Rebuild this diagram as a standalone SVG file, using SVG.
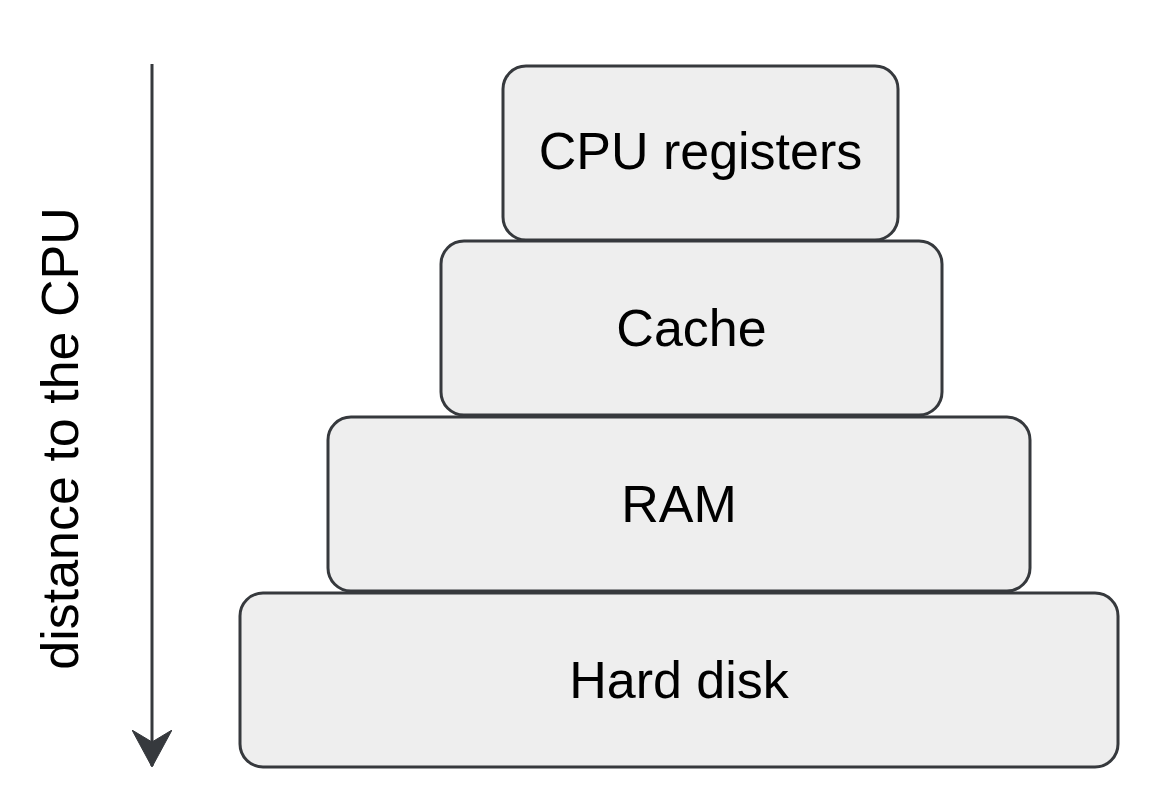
<svg xmlns="http://www.w3.org/2000/svg" width="1170" height="808" viewBox="0 0 1170 808">
  <style>
    .box { fill: #eeeeee; stroke: #36393d; stroke-width: 3; }
    .lbl { font-family: "Liberation Sans", Arial, Helvetica, sans-serif; font-size: 52px; fill: #000000; text-anchor: middle; }
    .edge { stroke: #36393d; stroke-width: 3; fill: none; }
  </style>
  <defs>
    <marker id="arrow" viewBox="0 0 40 40" refX="36" refY="20" markerWidth="40" markerHeight="40" markerUnits="userSpaceOnUse" orient="auto">
      <path d="M0,0 L37,20 L0,40 L12,20 Z" fill="#36393d" stroke="#36393d" stroke-width="1" stroke-linejoin="miter"/>
    </marker>
  </defs>
  <rect width="1170" height="808" fill="#ffffff"/>
  <g id="connectors">
    <line class="edge" x1="152" y1="64" x2="152" y2="766" marker-end="url(#arrow)"/>
    <text class="lbl" transform="translate(78,438.5) rotate(-90)">distance to the CPU</text>
  </g>
  <g id="node-cpu">
    <rect class="box" x="503" y="66" width="395" height="174" rx="23" ry="23"/>
    <text class="lbl" x="700.5" y="169">CPU registers</text>
  </g>
  <g id="node-cache">
    <rect class="box" x="441" y="241" width="501" height="174" rx="23" ry="23"/>
    <text class="lbl" x="691.5" y="346">Cache</text>
  </g>
  <g id="node-ram">
    <rect class="box" x="328" y="417" width="702" height="174" rx="23" ry="23"/>
    <text class="lbl" x="679" y="522">RAM</text>
  </g>
  <g id="node-disk">
    <rect class="box" x="240" y="593" width="878" height="174" rx="23" ry="23"/>
    <text class="lbl" x="679" y="698">Hard disk</text>
  </g>
</svg>
